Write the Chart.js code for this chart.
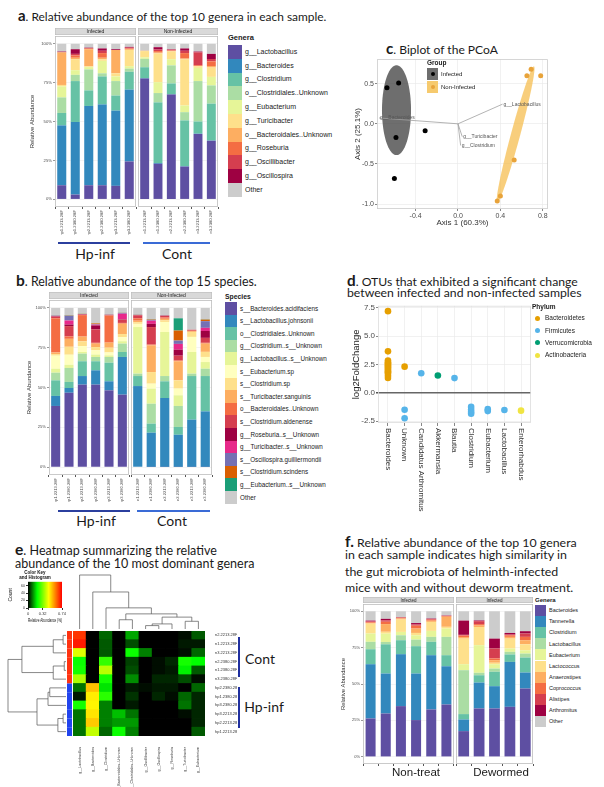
<!DOCTYPE html>
<html>
<head>
<meta charset="utf-8">
<title>Gut microbiota of Hp-infected mice</title>
<script src="https://cdn.jsdelivr.net/npm/chart.js@4.4.1/dist/chart.umd.min.js"></script>
<style>
  body { margin: 0; width: 604px; height: 787px; position: relative; overflow: hidden; background: #fff; }
  canvas { position: absolute; }
  .title { position: absolute; font-family: Lato, 'Open Sans', sans-serif; color: #1a1a1a; white-space: nowrap; line-height: 1.2; }
  .title b { font-size: 1.25em; }
  .lg { position: absolute; font-family: 'Liberation Sans', Arial, sans-serif; color: #1a1a1a; white-space: nowrap; line-height: 1.2; }
  .grp { position: absolute; font-family: Lato, 'Open Sans', sans-serif; color: #1a1a1a; white-space: nowrap; transform: translate(-50%, -50%); }
  .bar { position: absolute; }
</style>
</head>
<body>
<script>
// ---------- panel a: top 10 genera (% of reads) ----------
const aSamples = ['hp1.2213.28F', 'hp1.2380.28F', 'hp2.2213.28F', 'hp2.2380.28F', 'hp3.2213.28F', 'hp3.2380.28F',
                  'n1.2213.28F', 'n1.2380.28F', 'n2.2213.28F', 'n2.2380.28F', 'n3.2213.28F', 'n3.2380.28F'];
const aGenera = ['g__Lactobacillus', 'g__Bacteroides', 'g__Clostridium', 'o__Clostridiales..Unknown', 'g__Eubacterium',
                 'g__Turicibacter', 'o__Bacteroidales..Unknown', 'g__Roseburia', 'g__Oscillibacter', 'g__Oscillospira', 'Other'];
const aLactobacillus     = [9, 3, 9, 9, 8.6, 24.3, 77.6, 22.8, 67.3, 21, 42, 37.6];
const aBacteroides       = [38.5, 46.7, 51, 52, 48.4, 46.2, 0.3, 0.5, 0.2, 0.3, 0.2, 0.2];
const aClostridium       = [8, 26.3, 10, 18, 9.7, 11.5, 7, 39, 7, 29.4, 7.8, 23.7];
const aClostridialesUnk  = [10, 4, 13.5, 2, 9.3, 2, 5.4, 6, 11.6, 5.3, 26, 11.7];
const aEubacterium       = [7, 3, 1.5, 8, 3, 1.6, 1, 7, 4, 4.3, 8.5, 5.5];
const aTuricibacter      = [1, 7, 0.5, 1, 2, 10.4, 4, 18.5, 5, 29.7, 1, 6];
const aBacteroidalesUnk  = [21, 1, 11, 1, 15, 0.5, 0.2, 0.5, 0.3, 0.5, 0.2, 1];
const aRoseburia         = [0, 1.5, 0.5, 3, 0, 0.5, 0, 1, 0.3, 3.5, 0.5, 3];
const aOscillibacter     = [0, 1, 0, 1.5, 0, 0.5, 0, 1, 0.5, 1.5, 8.3, 1.5];
const aOscillospira      = [0.5, 3, 0.5, 1.5, 0.5, 0.5, 0, 1.5, 0.3, 1.5, 0.5, 3.3];
const aOther             = [5, 3.5, 2.5, 3, 3.5, 2, 4.5, 2.2, 3.5, 3, 5, 6.5];

// ---------- panel b: top 15 species ----------
const bSpecies = ['s__Bacteroides.acidifaciens', 's__Lactobacillus.johnsonii', 'o__Clostridiales..Unknown',
                  'g__Clostridium..s__Unknown', 'g__Lactobacillus..s__Unknown', 's__Eubacterium.sp', 's__Clostridium.sp',
                  's__Turicibacter.sanguinis', 'o__Bacteroidales..Unknown', 's__Clostridium.aldenense',
                  'g__Roseburia..s__Unknown', 'g__Turicibacter..s__Unknown', 's__Oscillospira.guilliermondii',
                  's__Clostridium.scindens', 'g__Eubacterium..s__Unknown', 'Other'];
const bBactAcid       = [38.4, 46.7, 51.8, 51.8, 48.2, 45.5, 0.2, 0.1, 0.1, 0.1, 0.1, 0.1];
const bLactJohnsonii  = [6.3, 3, 5.4, 9, 5.7, 23.7, 50.7, 21.5, 43.3, 20.2, 29.7, 34.9];
const bClostridiales  = [9.8, 3.8, 9.3, 5.7, 11.7, 3.1, 6.3, 5.7, 10.5, 4.9, 27.4, 22.2];
const bClostridiumUnk = [4.8, 8.8, 4.8, 2.7, 3.6, 5.3, 1.5, 12.5, 3.3, 13.2, 1.5, 4.6];
const bLactoUnk       = [2.5, 2, 1, 1.5, 1, 1.5, 29.3, 9.5, 27.7, 6.7, 13.6, 4.2];
const bEubacteriumSp  = [8.2, 6.3, 3.7, 2.7, 1.8, 2.5, 2, 3.1, 6.3, 4.2, 9.5, 3.2];
const bClostridiumSp  = [1, 5, 3, 2, 3, 2, 1, 7.3, 1, 5.2, 3.1, 3.2];
const bTuriSanguinis  = [1, 5, 3, 2.2, 3.2, 6.5, 1, 16.8, 1, 12, 0.5, 5.2];
const bBacteroidales  = [21.5, 1.5, 13.5, 0.5, 17, 0.5, 1.5, 0.5, 0.8, 0.5, 0.3, 0.5];
const bAldenense      = [1, 6.5, 0.3, 8.4, 0.3, 2, 1.9, 11, 1, 3, 0.6, 3.1];
const bRoseburiaUnk   = [0.3, 1, 0.2, 2.5, 0.1, 0.3, 0.1, 2, 0.1, 3.8, 0, 4.3];
const bTuriUnk        = [0.2, 2.5, 0.1, 0.5, 0.1, 3.5, 0.1, 2, 0.1, 3.6, 0, 2];
const bOscillospira   = [0.2, 3, 0.1, 0.3, 0.1, 0.5, 0.1, 0.5, 0.1, 2.1, 0, 4.2];
const bScindens       = [0.1, 0.2, 0.1, 0.5, 0.1, 0.1, 0.1, 0.3, 0.1, 6.3, 0, 1];
const bEubacteriumUnk = [0.1, 0.2, 0.1, 0.1, 0.1, 0.1, 0.1, 0.2, 0.1, 7.7, 0, 0.2];
const bOther          = [4.6, 4.5, 3.6, 9.6, 4, 2.9, 4.1, 7, 4.5, 6.5, 13.7, 7.1];

// ---------- panel c: PCoA biplot ----------
const infAxis1 = [-0.67, -0.56, -0.585, -0.31, -0.6];
const infAxis2 = [0.45, 0.51, -0.17, -0.085, -0.68];
const nonAxis1 = [0.69, 0.65, 0.78, 0.53, 0.4, 0.37];
const nonAxis2 = [0.68, 0.6, 0.6, -0.45, -0.9, -0.96];
const taxaNames = ['g__Lactobacillus', 'g__Bacteroides', 'g__Turicibacter', 'g__Clostridium'];
const taxaAxis1 = [0.42, -0.745, 0.04, 0.025];
const taxaAxis2 = [0.245, 0.073, -0.16, -0.27];
const ellipseCenter = [[-0.58, 0.17], [0.543, -0.134]];
const ellipseAxisA  = [[0.137, 0], [0.173, 0.85]];
const ellipseAxisB  = [[0, 0.56], [0.045, 0]];
const pcoaXTicks = [-0.4, 0, 0.4, 0.8];
const pcoaYTicks = [-1, -0.5, 0, 0.5];

// ---------- panel d: significant OTUs ----------
const otuGenera = ['Bacteroides', 'Unknown', 'Candidatus Arthromitus', 'Akkermansia', 'Blautia',
                   'Clostridium', 'Eubacterium', 'Lactobacillus', 'Enterorhabdus'];
const phyla = ['Bacteroidetes', 'Firmicutes', 'Verrucomicrobia', 'Actinobacteria'];
const bacteroidetesGenus = ['Bacteroides', 'Bacteroides', 'Bacteroides', 'Bacteroides', 'Bacteroides', 'Bacteroides',
                            'Bacteroides', 'Bacteroides', 'Bacteroides', 'Bacteroides', 'Bacteroides', 'Bacteroides',
                            'Bacteroides', 'Bacteroides', 'Bacteroides', 'Bacteroides', 'Unknown'];
const bacteroidetesFold  = [7.2, 3.65, 2.85, 2.7, 2.6, 2.5, 2.4, 2.3, 2.2, 2.1, 2.0, 1.9, 1.8, 1.7, 1.5, 1.3, 2.3];
const firmicutesGenus = ['Unknown', 'Unknown', 'Candidatus Arthromitus', 'Blautia', 'Clostridium', 'Clostridium',
                         'Clostridium', 'Clostridium', 'Eubacterium', 'Eubacterium', 'Lactobacillus'];
const firmicutesFold  = [-1.5, -2.25, 1.72, 1.29, -1.25, -1.5, -1.7, -1.85, -1.45, -1.62, -1.52];
const verrucoGenus = ['Akkermansia'];
const verrucoFold  = [1.52];
const actinoGenus  = ['Enterorhabdus'];
const actinoFold   = [-1.58];
const foldTicks = [-2.5, 0, 2.5, 5, 7.5];

// ---------- panel e: heatmap (relative abundance, proportion) ----------
const heatGenera = ['g__Lactobacillus', 'g__Bacteroides', 'g__Clostridium', 'o__Bacteroidales..Unknown',
                    'o__Clostridiales..Unknown', 'g__Oscillibacter', 'g__Oscillospira', 'g__Roseburia',
                    'g__Turicibacter', 'g__Eubacterium'];
const heatRowNames = ['n2.2213.28F', 'n1.2213.28F', 'n3.2213.28F', 'n2.2380.28F', 'n1.2380.28F', 'n3.2380.28F',
                      'hp2.2380.28F', 'hp1.2380.28F', 'hp3.2380.28F', 'hp3.2213.28F', 'hp2.2213.28F', 'hp1.2213.28F'];
const heatRowGroup = ['Cont', 'Cont', 'Cont', 'Cont', 'Cont', 'Cont', 'Hp-inf', 'Hp-inf', 'Hp-inf', 'Hp-inf', 'Hp-inf', 'Hp-inf'];
const heatN2_2213  = [0.68, 0, 0.08, 0, 0.13, 0, 0, 0, 0.01, 0.07];
const heatN1_2213  = [0.71, 0, 0.07, 0, 0.06, 0, 0, 0, 0.02, 0.02];
const heatN3_2213  = [0.42, 0, 0.07, 0, 0.21, 0.1, 0, 0, 0.01, 0.08];
const heatN2_2380  = [0.21, 0, 0.25, 0, 0.05, 0, 0.01, 0.03, 0.22, 0.2];
const heatN1_2380  = [0.22, 0, 0.38, 0, 0.06, 0, 0.01, 0.02, 0.19, 0.07];
const heatN3_2380  = [0.37, 0, 0.22, 0, 0.11, 0, 0.03, 0.03, 0.06, 0.01];
const heatHp2_2380 = [0.09, 0.52, 0.18, 0, 0.02, 0.01, 0.02, 0.02, 0, 0.08];
const heatHp1_2380 = [0.02, 0.47, 0.24, 0, 0.04, 0, 0.03, 0.01, 0.08, 0.03];
const heatHp3_2380 = [0.22, 0.46, 0.1, 0, 0.02, 0, 0, 0, 0.09, 0.03];
const heatHp3_2213 = [0.09, 0.48, 0.1, 0.15, 0.09, 0, 0, 0, 0.01, 0.03];
const heatHp2_2213 = [0.09, 0.51, 0.1, 0.12, 0.12, 0, 0, 0, 0, 0.03];
const heatHp1_2213 = [0.09, 0.39, 0.08, 0.21, 0.1, 0, 0, 0, 0, 0.07];
const heatRows = [heatN2_2213, heatN1_2213, heatN3_2213, heatN2_2380, heatN1_2380, heatN3_2380,
                  heatHp2_2380, heatHp1_2380, heatHp3_2380, heatHp3_2213, heatHp2_2213, heatHp1_2213];
// hclust-style merges: negative = leaf (1-based), positive = earlier merge; third value = height
const colMerges = [[-6, -7, 0.022], [-8, 1, 0.033], [-9, -10, 0.05], [2, 3, 0.077], [-4, -5, 0.06],
                   [5, 4, 0.098], [-3, 6, 0.137], [-2, 7, 0.24], [-1, 8, 0.35]];
const rowMerges = [[-1, -2, 0.05], [-3, 1, 0.22], [-4, -5, 0.03], [-6, 3, 0.22], [2, 4, 0.76],
                   [-7, -8, 0.28], [-9, 6, 0.31], [-10, -11, 0.05], [-12, 8, 0.14], [7, 9, 0.5], [5, 10, 1.0]];
const keyTicks = [0, 0.32, 0.74];
const countTicks = [0, 20, 40, 60];

// ---------- panel f: non-treated vs dewormed ----------
const fSamples = ['NT1', 'NT2', 'NT3', 'NT4', 'NT5', 'NT6', 'DW1', 'DW2', 'DW3', 'DW4', 'DW5'];
const fGenera = ['Bacteroides', 'Tannerella', 'Clostridium', 'Lactobacillus', 'Eubacterium', 'Lactococcus',
                 'Anaerostipes', 'Coprococcus', 'Alistipes', 'Arthromitus', 'Other'];
const fBacteroides   = [26.3, 29.7, 34.8, 25.2, 32.5, 35.9, 17.6, 33.2, 33.2, 34.3, 46.9];
const fTannerella    = [37.3, 27.5, 35.7, 32, 37.3, 26.3, 8, 17.8, 15.3, 30.9, 11];
const fClostridium   = [10.3, 20.1, 9.6, 18.8, 9.2, 7.6, 3.7, 5, 9.9, 5.1, 10.3];
const fLactobacillus = [5.1, 1.6, 3.4, 4.5, 3.4, 12.6, 30.2, 1.7, 2.2, 1.8, 2.7];
const fEubacterium   = [5.7, 5.7, 2.3, 3, 4.1, 5.7, 4.1, 19, 3, 2.3, 2.3];
const fLactococcus   = [6.8, 1.3, 8.5, 1.6, 6.2, 1.2, 17.6, 12.5, 1, 6.8, 4.1];
const fAnaerostipes  = [0.5, 5.3, 0.7, 3, 0.8, 6.9, 1.1, 1, 1.8, 1.2, 2.8];
const fCoprococcus   = [0.5, 1.6, 0.5, 2, 0.7, 0.5, 1, 1, 1.2, 1.1, 2.3];
const fAlistipes     = [0.5, 1, 0.3, 0.8, 0.5, 0.2, 0.5, 2, 6.8, 0.5, 2.3];
const fArthromitus   = [0.6, 1, 0.2, 1, 0.3, 0.2, 9.8, 0.5, 6.8, 1.1, 1.6];
const fOther         = [6.4, 5.2, 4, 8.1, 5, 2.9, 6.4, 6.3, 18.8, 14.9, 13.7];

const pctTicks = [0, 25, 50, 75, 100];

// ---------- colours ----------
const spectral = ['#5E4FA2', '#3288BD', '#66C2A5', '#ABDDA4', '#E6F598', '#FEE08B', '#FDAE61', '#F46D43', '#D53E4F', '#9E0142'];
const otherGrey = '#CCCCCC';
const genusColors = spectral.concat(otherGrey);
const speciesColors = ['#5E4FA2', '#3288BD', '#66C2A5', '#ABDDA4', '#E6F598', '#FFFFBF', '#FEE08B', '#FDAE61',
                       '#F46D43', '#D53E4F', '#9E0142', '#E7298A', '#7570B3', '#D95F02', '#1B9E77', otherGrey];
const phylumColors = ['#E69F00', '#56B4E9', '#009E73', '#F0E442'];
const heatStops = [[0, [0, 0, 0]], [0.2, [0, 255, 0]], [0.45, [255, 255, 0]], [0.74, [255, 0, 0]]];
const groupBarColors = {'Cont': '#FF3311', 'Hp-inf': '#2244EE'};

Chart.defaults.font.family = "'Liberation Sans', Arial, sans-serif";
Chart.defaults.color = '#4D4D4D';

// ---------- helpers ----------
function mkCanvas(x, y, w, h) {
  const c = document.createElement('canvas');
  c.width = w; c.height = h;
  c.style.left = x + 'px'; c.style.top = y + 'px';
  c.style.width = w + 'px'; c.style.height = h + 'px';
  document.body.appendChild(c);
  return c;
}
function addDiv(html, x, y, cls, style) {
  const d = document.createElement('div');
  d.className = cls; d.innerHTML = html;
  d.style.left = x + 'px'; d.style.top = y + 'px';
  Object.assign(d.style, style || {});
  document.body.appendChild(d);
  return d;
}
// title lines, font size fitted so the first line has the reference width
function title(lines, x, cys, width) {
  const els = lines.map(t => addDiv(t, x, 0, 'title'));
  els[0].style.fontSize = '20px';
  const fs = 20 * width / els[0].getBoundingClientRect().width;
  els.forEach((e, i) => { e.style.fontSize = fs + 'px'; e.style.top = (cys[i] - 0.66 * fs) + 'px'; });
}
function boxLegend(x, titleCy, keyTop, head, names, colors, kw, kh, fs) {
  addDiv(head, x, titleCy - 0.6 * (fs + 0.5), 'lg', {fontWeight: 'bold', fontSize: (fs + 0.5) + 'px'});
  names.forEach((n, i) => {
    const y = keyTop + i * kh;
    addDiv('', x, y, 'bar', {width: kw + 'px', height: kh + 'px', background: colors[i]});
    addDiv(n, x + kw + 3, y + kh / 2 - 0.6 * fs, 'lg', {fontSize: fs + 'px'});
  });
}
function hLine(x1, x2, y, color) { addDiv('', x1, y, 'bar', {width: (x2 - x1) + 'px', height: '2px', background: color}); }
function vLine(x, y1, y2, color) { addDiv('', x, y1, 'bar', {width: '2px', height: (y2 - y1) + 'px', background: color}); }
function heatColor(v) {
  for (let i = 1; i < heatStops.length; i++) {
    const [v0, c0] = heatStops[i - 1], [v1, c1] = heatStops[i];
    if (v <= v1 || i === heatStops.length - 1) {
      const t = Math.max(0, Math.min(1, (v - v0) / (v1 - v0)));
      return 'rgb(' + c0.map((c, k) => Math.round(c + (c1[k] - c) * t)).join(',') + ')';
    }
  }
}

// strip on top of a facet + panel border
const facetPlugin = {
  id: 'facet',
  beforeDraw(chart, args, o) {
    if (!o.strip) return;
    const {ctx, chartArea: a} = chart;
    ctx.save();
    ctx.fillStyle = '#D9D9D9';
    ctx.fillRect(a.left, a.top - o.stripH - 1, a.right - a.left, o.stripH);
    ctx.strokeStyle = '#BDBDBD'; ctx.lineWidth = 0.6;
    ctx.strokeRect(a.left + 0.3, a.top - o.stripH - 0.7, a.right - a.left - 0.6, o.stripH - 0.6);
    ctx.fillStyle = '#1A1A1A';
    ctx.font = o.stripFs + "px 'Liberation Sans', Arial";
    ctx.textAlign = 'center'; ctx.textBaseline = 'middle';
    ctx.fillText(o.strip, (a.left + a.right) / 2, a.top - o.stripH / 2 - 0.5);
    ctx.restore();
  },
  afterDraw(chart, args, o) {
    if (!o.border) return;
    const {ctx, chartArea: a} = chart;
    ctx.save();
    ctx.strokeStyle = o.border; ctx.lineWidth = 0.8;
    ctx.strokeRect(a.left + 0.4, a.top + 0.4, a.right - a.left - 0.8, a.bottom - a.top - 0.8);
    ctx.restore();
  }
};

function stackedFacet(p) {
  const padTop = p.stripH + 1;
  const hasY = p.yw > 0;
  const cv = mkCanvas(p.box.l - p.yw, p.box.t - padTop, p.box.r - p.box.l + p.yw + 1, p.box.b - p.box.t + padTop + p.xh);
  return new Chart(cv, {
    type: 'bar',
    data: {
      labels: p.labels.slice(p.from, p.to),
      datasets: p.names.map((n, i) => ({
        label: n, data: p.series[i].slice(p.from, p.to), backgroundColor: p.colors[i],
        borderWidth: 0, barPercentage: p.barPct, categoryPercentage: 1
      }))
    },
    options: {
      responsive: false, animation: false, devicePixelRatio: 1, events: [],
      layout: {padding: {top: padTop, right: 1, left: 0, bottom: 0}},
      plugins: {
        legend: {display: false}, tooltip: {enabled: false},
        facet: {strip: p.strip, stripH: p.stripH, stripFs: p.stripFs, border: '#BDBDBD'}
      },
      scales: {
        x: {
          stacked: true, offset: true,
          grid: {drawOnChartArea: false, drawTicks: true, tickLength: 2, tickColor: '#555'},
          border: {display: false},
          ticks: {display: p.showX, autoSkip: false, minRotation: 90, maxRotation: 90,
                  font: {size: p.fs}, color: '#4D4D4D', padding: 1},
          afterFit: s => { s.height = p.xh; }
        },
        y: {
          stacked: true, min: -5, max: 105,
          afterBuildTicks: s => { s.ticks = pctTicks.map(v => ({value: v})); },
          grid: {color: '#EDEDED', lineWidth: 0.6, drawTicks: hasY, tickLength: 2, tickColor: '#555'},
          border: {display: false},
          ticks: {display: hasY, font: {size: p.fs}, color: '#4D4D4D', padding: 1, callback: v => v + '%'},
          title: {display: hasY, text: 'Relative Abundance', font: {size: p.yTitleFs}, color: '#333', padding: 0},
          afterFit: s => { s.width = p.yw; }
        }
      }
    },
    plugins: [facetPlugin]
  });
}

// ================= panel a =================
title(['<b>a</b>. Relative abundance of the top 10 genera in each sample.'], 18, [15], 309);
const aSeries = [aLactobacillus, aBacteroides, aClostridium, aClostridialesUnk, aEubacterium, aTuricibacter,
                 aBacteroidalesUnk, aRoseburia, aOscillibacter, aOscillospira, aOther];
const aCommon = {names: aGenera, colors: genusColors, series: aSeries, labels: aSamples, stripH: 7, xh: 28,
                 barPct: 0.67, fs: 4.2, stripFs: 5, yTitleFs: 6, showX: true};
stackedFacet(Object.assign({}, aCommon, {box: {l: 55, r: 136, t: 36, b: 207}, yw: 26, from: 0, to: 6, strip: 'Infected'}));
stackedFacet(Object.assign({}, aCommon, {box: {l: 138, r: 218, t: 36, b: 207}, yw: 0, from: 6, to: 12, strip: 'Non-Infected'}));
boxLegend(228, 37, 45, 'Genera', aGenera, genusColors, 14, 13.8, 7);
hLine(58, 130, 242, '#2B3F9E');
hLine(143, 210, 242, '#3A6BD6');
addDiv('Hp-inf', 95, 253, 'grp', {fontSize: '14px'});
addDiv('Cont', 177, 253, 'grp', {fontSize: '14px'});

// ================= panel b =================
title(['<b>b</b>. Relative abundance of the top 15 species.'], 16, [279], 241);
const bSeries = [bBactAcid, bLactJohnsonii, bClostridiales, bClostridiumUnk, bLactoUnk, bEubacteriumSp, bClostridiumSp,
                 bTuriSanguinis, bBacteroidales, bAldenense, bRoseburiaUnk, bTuriUnk, bOscillospira, bScindens,
                 bEubacteriumUnk, bOther];
const bCommon = {names: bSpecies, colors: speciesColors, series: bSeries, labels: aSamples, stripH: 7, xh: 27,
                 barPct: 0.68, fs: 4.1, stripFs: 5, yTitleFs: 6, showX: true};
stackedFacet(Object.assign({}, bCommon, {box: {l: 49, r: 129, t: 300, b: 475}, yw: 23, from: 0, to: 6, strip: 'Infected'}));
stackedFacet(Object.assign({}, bCommon, {box: {l: 131, r: 212, t: 300, b: 475}, yw: 0, from: 6, to: 12, strip: 'Non-Infected'}));
boxLegend(225, 297.5, 302, 'Species', bSpecies, speciesColors, 12, 12.6, 6.3);
hLine(58, 130, 510, '#2B3F9E');
hLine(137, 210, 510, '#3A6BD6');
addDiv('Hp-inf', 96, 520, 'grp', {fontSize: '14px'});
addDiv('Cont', 172, 520, 'grp', {fontSize: '14px'});

// ================= panel c =================
title(['<b>c</b>. Biplot of the PCoA'], 386, [47], 112);
const ellipseFills = ['rgba(85,85,85,0.85)', 'rgba(245,190,80,0.75)'];
const biplotPlugin = {
  id: 'biplot',
  beforeDatasetsDraw(chart) {
    const {ctx, scales: {x, y}} = chart;
    ctx.save();
    ellipseCenter.forEach((c, i) => {
      const A = ellipseAxisA[i], B = ellipseAxisB[i];
      ctx.beginPath();
      for (let k = 0; k <= 90; k++) {
        const t = k / 90 * 2 * Math.PI;
        const px = x.getPixelForValue(c[0] + A[0] * Math.cos(t) + B[0] * Math.sin(t));
        const py = y.getPixelForValue(c[1] + A[1] * Math.cos(t) + B[1] * Math.sin(t));
        if (k) ctx.lineTo(px, py); else ctx.moveTo(px, py);
      }
      ctx.fillStyle = ellipseFills[i];
      ctx.fill();
    });
    ctx.restore();
  },
  afterDatasetsDraw(chart) {
    const {ctx, scales: {x, y}} = chart;
    ctx.save();
    ctx.font = "5px 'Liberation Sans', Arial";
    ctx.fillStyle = '#555';
    ctx.textBaseline = 'middle'; ctx.textAlign = 'left';
    taxaNames.forEach((t, i) => ctx.fillText(t, x.getPixelForValue(taxaAxis1[i]) + 1, y.getPixelForValue(taxaAxis2[i])));
    ctx.restore();
  }
};
new Chart(mkCanvas(353, 54, 202, 174), {
  type: 'scatter',
  data: {
    datasets: taxaNames.map((t, i) => ({
      label: t, data: [{x: 0, y: 0}, {x: taxaAxis1[i], y: taxaAxis2[i]}], showLine: true,
      borderColor: '#A0A0A0', borderWidth: 0.8, pointRadius: 0
    })).concat([
      {label: 'Infected', data: infAxis1.map((v, i) => ({x: v, y: infAxis2[i]})), backgroundColor: '#000', borderWidth: 0, pointRadius: 2.5},
      {label: 'Non-Infected', data: nonAxis1.map((v, i) => ({x: v, y: nonAxis2[i]})), backgroundColor: '#E8A33A', borderWidth: 0, pointRadius: 2.5}
    ])
  },
  options: {
    responsive: false, animation: false, devicePixelRatio: 1, events: [],
    layout: {padding: {top: 2, right: 7, left: 0, bottom: 0}},
    plugins: {legend: {display: false}, tooltip: {enabled: false}, facet: {border: '#CCCCCC'}},
    scales: {
      x: {
        type: 'linear', min: -0.764, max: 0.849,
        afterBuildTicks: s => { s.ticks = pcoaXTicks.map(v => ({value: v})); },
        grid: {color: '#EBEBEB', lineWidth: 0.7, tickLength: 2, tickColor: '#555'},
        border: {display: false},
        ticks: {font: {size: 7}, color: '#4D4D4D', padding: 1, callback: v => v.toFixed(1)},
        title: {display: true, text: 'Axis 1 (60.3%)', font: {size: 8}, color: '#333', padding: 0},
        afterFit: s => { s.height = 19; }
      },
      y: {
        min: -1.061, max: 0.805,
        afterBuildTicks: s => { s.ticks = pcoaYTicks.map(v => ({value: v})); },
        grid: {color: '#EBEBEB', lineWidth: 0.7, tickLength: 2, tickColor: '#555'},
        border: {display: false},
        ticks: {font: {size: 7}, color: '#4D4D4D', padding: 1, callback: v => v.toFixed(1)},
        title: {display: true, text: 'Axis 2 (25.1%)', font: {size: 8}, color: '#333', padding: 0},
        afterFit: s => { s.width = 24; }
      }
    }
  },
  plugins: [facetPlugin, biplotPlugin]
});
addDiv('Group', 427, 59, 'lg', {fontWeight: 'bold', fontSize: '6.5px'});
addDiv('', 427, 68, 'bar', {width: '11px', height: '12px', background: '#6E6E6E'});
addDiv('', 430.5, 71.5, 'bar', {width: '4px', height: '4px', borderRadius: '2px', background: '#000'});
addDiv('', 427, 81, 'bar', {width: '11px', height: '12px', background: '#F6CA6E'});
addDiv('', 430.5, 84.5, 'bar', {width: '4px', height: '4px', borderRadius: '2px', background: '#E8A33A'});
addDiv('Infected', 441, 70.5, 'lg', {fontSize: '6px'});
addDiv('Non-Infected', 441, 83.5, 'lg', {fontSize: '6px'});

// ================= panel d =================
title(['<b>d</b>. OTUs that exhibited a significant change', 'between infected and non-infected samples'], 347, [279, 294], 231);
const otuLabelPlugin = {
  id: 'otuLabels',
  afterDraw(chart) {
    const {ctx, chartArea: a, scales: {x}} = chart;
    ctx.save();
    ctx.font = "8px 'Liberation Sans', Arial";
    ctx.fillStyle = '#333';
    ctx.textAlign = 'left'; ctx.textBaseline = 'middle';
    otuGenera.forEach((g, i) => {
      ctx.save();
      ctx.translate(x.getPixelForValue(i), a.bottom + 5);
      ctx.rotate(Math.PI / 2);
      ctx.fillText(g, 0, 0);
      ctx.restore();
    });
    ctx.restore();
  }
};
const phylumGenus = [bacteroidetesGenus, firmicutesGenus, verrucoGenus, actinoGenus];
const phylumFold = [bacteroidetesFold, firmicutesFold, verrucoFold, actinoFold];
new Chart(mkCanvas(351, 300, 184, 215), {
  type: 'scatter',
  data: {
    datasets: phyla.map((ph, k) => ({
      label: ph,
      data: phylumGenus[k].map((g, i) => ({x: otuGenera.indexOf(g), y: phylumFold[k][i]})),
      backgroundColor: phylumColors[k], borderWidth: 0, pointRadius: 3.3
    }))
  },
  options: {
    responsive: false, animation: false, devicePixelRatio: 1, events: [],
    layout: {padding: {top: 2, right: 2, left: 0, bottom: 0}},
    plugins: {legend: {display: false}, tooltip: {enabled: false}, facet: {border: '#DDDDDD'}},
    scales: {
      x: {
        type: 'linear', min: -0.6, max: 8.6,
        afterBuildTicks: s => { s.ticks = otuGenera.map((g, i) => ({value: i})); },
        grid: {color: '#EBEBEB', lineWidth: 0.7, tickLength: 3, tickColor: '#555'},
        border: {display: false},
        ticks: {display: false},
        afterFit: s => { s.height = 92; }
      },
      y: {
        min: -2.67, max: 7.67,
        afterBuildTicks: s => { s.ticks = foldTicks.map(v => ({value: v})); },
        grid: {
          color: c => (c.tick && c.tick.value === 0 ? '#666666' : '#EBEBEB'),
          lineWidth: c => (c.tick && c.tick.value === 0 ? 1.5 : 0.7),
          tickLength: 2, tickColor: '#555'
        },
        border: {display: false},
        ticks: {font: {size: 8}, color: '#4D4D4D', padding: 1, callback: v => v.toFixed(1)},
        title: {display: true, text: 'log2FoldChange', font: {size: 9.5}, color: '#222', padding: 0},
        afterFit: s => { s.width = 27; }
      }
    }
  },
  plugins: [facetPlugin, otuLabelPlugin]
});
addDiv('Phylum', 532, 303, 'lg', {fontWeight: 'bold', fontSize: '6.5px'});
[318.3, 330.7, 342.7, 355].forEach((cy, k) => {
  addDiv('', 534.5, cy - 2.5, 'bar', {width: '5px', height: '5px', borderRadius: '2.5px', background: phylumColors[k]});
  addDiv(phyla[k], 545, cy - 3.9, 'lg', {fontSize: '6.5px'});
});

// ================= panel e =================
title(['<b>e</b>. Heatmap summarizing the relative', 'abundance of the 10 most dominant genera'], 15, [548, 564], 202);
function drawDendro(ctx, merges, leafPos, hPix, vertical) {
  const nodes = [];
  const get = r => (r < 0 ? {p: leafPos(-r - 1), h: 0} : nodes[r - 1]);
  const seg = (p1, q1, p2, q2) => {
    if (vertical) { ctx.moveTo(p1, q1); ctx.lineTo(p2, q2); } else { ctx.moveTo(q1, p1); ctx.lineTo(q2, p2); }
  };
  ctx.beginPath();
  merges.forEach(([a, b, h]) => {
    const A = get(a), B = get(b);
    const hh = hPix(h);
    seg(A.p, hPix(A.h), A.p, hh);
    seg(A.p, hh, B.p, hh);
    seg(B.p, hh, B.p, hPix(B.h));
    nodes.push({p: (A.p + B.p) / 2, h});
  });
  ctx.stroke();
}
const heatDecor = {
  id: 'heatDecor',
  afterDraw(chart) {
    const {ctx, chartArea: a, scales: {x, y}} = chart;
    const nRow = heatRowNames.length;
    ctx.save();
    heatRowNames.forEach((r, i) => {
      const y0 = y.getPixelForValue(nRow - i), y1 = y.getPixelForValue(nRow - i - 1);
      ctx.fillStyle = groupBarColors[heatRowGroup[i]];
      ctx.fillRect(a.left - 6, y0, 5, y1 - y0);
    });
    ctx.strokeStyle = '#555'; ctx.lineWidth = 0.7;
    const colMax = colMerges[colMerges.length - 1][2];
    drawDendro(ctx, colMerges, i => x.getPixelForValue(i), h => a.top - 2 - h / colMax * 54, true);
    const rowMax = rowMerges[rowMerges.length - 1][2];
    drawDendro(ctx, rowMerges, i => y.getPixelForValue(nRow - i - 0.5), h => a.left - 7 - h / rowMax * 58, false);
    ctx.restore();
  }
};
const heatTop = 631, heatBottom = 736, heatLeft = 73, heatRight = 205, dendroH = 64;
new Chart(mkCanvas(0, heatTop - dendroH, heatRight + 32, dendroH + heatBottom - heatTop + 51), {
  type: 'bar',
  data: {
    labels: heatGenera,
    datasets: heatRows.slice().reverse().map((row, k) => ({
      label: heatRowNames[heatRows.length - 1 - k],
      data: heatGenera.map(() => 1),
      backgroundColor: row.map(heatColor),
      borderWidth: 0, barPercentage: 1, categoryPercentage: 1, inflateAmount: 0.4
    }))
  },
  options: {
    responsive: false, animation: false, devicePixelRatio: 1, events: [],
    layout: {padding: {top: dendroH, right: 0, left: heatLeft, bottom: 0}},
    plugins: {legend: {display: false}, tooltip: {enabled: false}},
    scales: {
      x: {
        stacked: true, offset: true,
        grid: {display: false}, border: {display: false},
        ticks: {autoSkip: false, minRotation: 90, maxRotation: 90, font: {size: 3.6}, color: '#333', padding: 3},
        afterFit: s => { s.height = 51; }
      },
      y: {
        position: 'right', stacked: true, min: 0, max: heatRowNames.length,
        afterBuildTicks: s => { s.ticks = heatRowNames.map((r, i) => ({value: i + 0.5})); },
        grid: {display: false}, border: {display: false},
        ticks: {autoSkip: false, font: {size: 4}, color: '#333', padding: 2,
                callback: v => heatRowNames[heatRowNames.length - 1 - Math.floor(v)]},
        afterFit: s => { s.width = 32; }
      }
    }
  },
  plugins: [heatDecor]
});
// colour key
const keyGradient = {
  id: 'keyGradient',
  beforeDatasetsDraw(chart) {
    const {ctx, chartArea: a, scales: {x}} = chart;
    const g = ctx.createLinearGradient(x.getPixelForValue(0), 0, x.getPixelForValue(0.74), 0);
    heatStops.forEach(([v, c]) => g.addColorStop(v / 0.74, 'rgb(' + c.join(',') + ')'));
    ctx.save();
    ctx.fillStyle = g;
    ctx.fillRect(a.left, a.top, a.right - a.left, a.bottom - a.top);
    ctx.restore();
  }
};
new Chart(mkCanvas(8, 567, 72, 57), {
  type: 'scatter',
  data: {datasets: []},
  options: {
    responsive: false, animation: false, devicePixelRatio: 1, events: [],
    layout: {padding: {top: 3, right: 18, left: 0, bottom: 0}},
    plugins: {
      legend: {display: false}, tooltip: {enabled: false},
      title: {display: true, text: ['Color Key', 'and Histogram'], font: {size: 4.5, weight: 'bold'}, color: '#111', padding: {top: 0, bottom: 1}}
    },
    scales: {
      x: {
        type: 'linear', min: 0, max: 0.74,
        afterBuildTicks: s => { s.ticks = keyTicks.map(v => ({value: v})); },
        grid: {drawOnChartArea: false, tickLength: 2, tickColor: '#333'}, border: {display: false},
        ticks: {font: {size: 4}, color: '#333', padding: 1, callback: v => String(v)},
        title: {display: true, text: 'Relative Abundance (%)', font: {size: 5}, color: '#111', padding: 0},
        afterFit: s => { s.height = 16; }
      },
      y: {
        min: 0, max: 70,
        afterBuildTicks: s => { s.ticks = countTicks.map(v => ({value: v})); },
        grid: {drawOnChartArea: false, tickLength: 2, tickColor: '#333'}, border: {display: false},
        ticks: {font: {size: 3.5}, color: '#333', padding: 1},
        title: {display: true, text: 'Count', font: {size: 5}, color: '#111', padding: 0},
        afterFit: s => { s.width = 20; }
      }
    }
  },
  plugins: [keyGradient]
});
vLine(238, 637, 677, '#1F2F9F');
vLine(238, 687, 728, '#1F2F9F');
addDiv('Cont', 260, 658, 'grp', {fontSize: '14px'});
addDiv('Hp-inf', 264, 706, 'grp', {fontSize: '14px'});

// ================= panel f =================
title(['<b>f.</b> Relative abundance of the top 10 genera', 'in each sample indicates high similarity in',
       'the gut microbiota of helminth-infected', 'mice with and without deworm treatment.'], 345, [540, 556.5, 573, 589], 232);
const fSeries = [fBacteroides, fTannerella, fClostridium, fLactobacillus, fEubacterium, fLactococcus,
                 fAnaerostipes, fCoprococcus, fAlistipes, fArthromitus, fOther];
const fCommon = {names: fGenera, colors: genusColors, series: fSeries, labels: fSamples, stripH: 6, xh: 5,
                 fs: 4, stripFs: 4.5, yTitleFs: 5.8, showX: false};
stackedFacet(Object.assign({}, fCommon, {box: {l: 363, r: 454, t: 604, b: 764}, yw: 23, from: 0, to: 6, strip: 'Infected', barPct: 0.66}));
stackedFacet(Object.assign({}, fCommon, {box: {l: 456, r: 533, t: 604, b: 764}, yw: 0, from: 6, to: 11, strip: 'Infected', barPct: 0.7}));
boxLegend(535, 600.5, 605, 'Genera', fGenera, genusColors, 11, 11.1, 5.5);
addDiv('Non-treat', 416, 772, 'grp', {fontSize: '11.5px', fontFamily: "'Liberation Sans', Arial, sans-serif"});
addDiv('Dewormed', 501, 772, 'grp', {fontSize: '11.5px', fontFamily: "'Liberation Sans', Arial, sans-serif"});
</script>
</body>
</html>
